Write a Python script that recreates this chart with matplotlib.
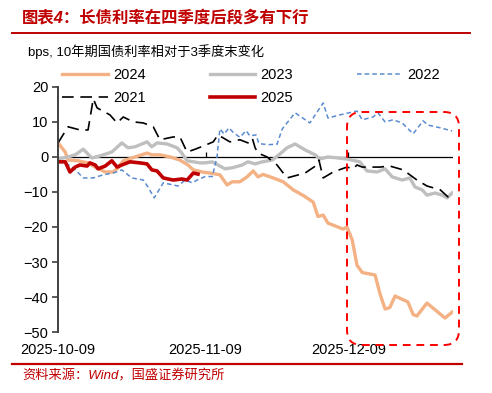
import matplotlib
matplotlib.use("Agg")
import matplotlib.pyplot as plt
from matplotlib.patches import FancyBboxPatch
from matplotlib.lines import Line2D
import pandas as pd

plt.rcParams['font.family'] = ['Liberation Sans', 'Noto Sans CJK SC']

start = pd.Timestamp('2025-10-09')
tick_labels = ['2025-10-09', '2025-11-09', '2025-12-09']
end_day = 83

# days after 2025-10-09, bps change vs end of Q3
d2024 = [0, 1.5, 2.1, 4.2, 6.3, 7.8, 9.9, 11.6, 12.6, 13.7, 16.2, 18.7, 19.7, 21.4, 23.5, 25.6,
         27.3, 28.4, 30.3, 31.9, 34, 35.5, 36.6, 38.2, 39.7, 41, 42, 43.1, 45.2, 47.3, 49.4,
         51.5, 53.6, 54.6, 55.7, 56.7, 59.9, 60.7, 61.8, 62.8, 63.9, 66.6, 67.6, 68.7, 69.7,
         70.8, 73.5, 74.6, 75.4, 77.5, 81.3, 82.8]
v2024 = [4, 1.4, -0.9, -1.1, -1.7, -2.9, -4.3, -4.3, -3.1, -1.1, 0, 1.1, 0.6, 0.6, 0, -0.9,
         -2.3, -3.7, -4.3, -4.6, -5.1, -8, -7.1, -7.1, -5.7, -4, -5.7, -5, -6, -7.1, -9.4,
         -11, -12.9, -17, -16.6, -18.9, -20.6, -20, -23.7, -30.9, -33, -33.7, -38.9, -43.4, -43,
         -39.7, -41.4, -45, -45.4, -41.7, -46, -44.3]

d2023 = [0, 2.1, 3.6, 5.3, 7.1, 8.8, 11.3, 13.4, 14.7, 16.2, 18.7, 19.7, 20.8, 22.9, 25, 26,
         27.1, 29.8, 30.9, 32.4, 33.6, 35.1, 36.6, 38.7, 39.9, 41.4, 42.9, 45, 47.1, 48.1, 49.8,
         51.9, 54, 55, 56.7, 58.8, 60.7, 63.4, 63.9, 64.9, 67, 68.7, 70.2, 72.3, 73.9, 75, 76.5,
         77.5, 79.2, 80.7, 81.7, 82.8]
v2023 = [-0.6, 0, 0.6, 2.2, -0.3, 0.3, 1.4, 4, 2.6, 2.9, 4.3, 2.9, 4, 3.7, 2.6, 1.1,
         -1.1, -1.7, -1.7, -1.4, -2.3, -3.4, -3.1, -2.3, -1.4, -2, -1.4, -0.9, 1.4, 2.6, 3.7,
         2, 0.6, -0.6, 0, -0.3, -0.6, -1.4, -2.3, -4, -4.3, -3.4, -5.7, -6.6, -6, -8.6, -9.4,
         -10.9, -10.3, -10.9, -11.7, -10.3]

d2022 = [0, 1.5, 3.2, 5.3, 7.4, 9.5, 11.6, 13.4, 15.5, 17.9, 18.9, 20.2, 22.1, 25.2, 26.7,
         28.2, 29.2, 30.9, 32.4, 33.4, 34, 34.9, 35.9, 36.8, 38.2, 39.5, 40.3, 41.6, 42.2, 44.1,
         46, 47.1, 49.8, 52.9, 55.7, 56.7, 59.2, 62.8, 63.9, 66.2, 67.2, 68.7, 70.4, 72.3, 74.6,
         76.7, 77.7, 80.3, 82.8]
v2022 = [-1.4, -1.7, -3.1, -6, -6, -5.1, -4.6, -3.7, -6, -6.6, -8.6, -11.7, -7.4, -8.3, -6.6,
         -7.4, -6.6, -5.6, -5.6, 0, 8, 6.5, 8.3, 7, 5.6, 7.5, 6, 6.3, 3.8, 3.5,
         3.6, 8, 12.6, 9.7, 15.4, 11.1, 12, 13.1, 10.6, 11.4, 12.6, 10, 10.6, 9.7, 6.6,
         10.3, 9.1, 8.3, 7.4]

d2021 = [0, 2.1, 4.6, 6.3, 7.4, 8.2, 10.9, 12.4, 13.7, 15.8, 17.9, 20, 21.4, 24.2, 25.6,
         27.1, 28.4, 30.5, 32.6, 33.6, 36.1, 38.2, 39.9, 40.8, 41.4, 42, 43.9, 46, 48.1, 51.9,
         54.4, 54.8, 55.7, 57.8, 60.7, 62, 62.8, 63.9, 67.6, 69.7, 72.5, 75.4, 77.5, 80.3, 81.9, 83]
v2021 = [4, 8.6, 7.7, 7.7, 16.6, 14, 12, 9.7, 11.4, 10, 9.7, 8.6, 4.9, 5.7, 5.7,
         1.4, 2, 3.1, 4.3, 6.3, 4.3, 4.9, 4, 5.4, 2.6, 1.1, 0, -2.3, -6, -4.6,
         -2.3, -0.9, -6, -4.3, -2.9, -3.4, -2.3, -2.9, -2.9, -2.6, -3.7, -6.6, -8.3, -9.4, -11.4, -10.3]

d2025 = [0, 1.5, 2.5, 3.6, 4.6, 6.1, 6.7, 7.8, 8.4, 9.9, 11.3, 12.4, 13.4, 15.1, 17.2, 18.7,
         19.7, 20.8, 22.1, 24.2, 26, 27.1, 27.7, 28.4, 29.4]
v2025 = [-1.4, -1.4, -4.3, -2.9, -2.3, -2.6, -1.7, -2.3, -3.4, -2.6, -1.1, -2.9, -2.3, -1.4, -1.7, -2,
         -3.7, -4, -6, -6.6, -6.3, -6.6, -5.7, -4.6, -4.9]

c2024 = '#F4B183'
c2023 = '#BFBFBF'
c2022 = '#5B8BD0'
c2021 = '#000000'
c2025 = '#C00000'
dark_red = '#C00000'

fig = plt.figure(figsize=(4.92, 3.93), dpi=100)
ax = fig.add_axes([0.118, 0.155, 0.803, 0.624])

l24, = ax.plot(d2024, v2024, color=c2024, lw=2.4, label='2024')
l23, = ax.plot(d2023, v2023, color=c2023, lw=2.4, label='2023')
l22, = ax.plot(d2022, v2022, color=c2022, lw=1.1, ls=(0, (3, 2)), label='2022')
l21, = ax.plot(d2021, v2021, color=c2021, lw=1.2, ls=(0, (7, 4)), label='2021')
l25, = ax.plot(d2025, v2025, color=c2025, lw=2.6, label='2025')

ax.axhline(0, color='black', lw=0.9, zorder=1)
tick_days = [(pd.Timestamp(t) - start).days for t in tick_labels]
ax.vlines(tick_days[1:], 0, 1.3, color='black', lw=0.9)

ax.set_xlim(0, end_day)
ax.set_ylim(-50, 20)
ax.set_yticks(range(-50, 21, 10))
ax.set_xticks(tick_days)
ax.set_xticklabels(tick_labels)
ax.tick_params(axis='x', length=0, pad=8, labelsize=10.5)
ax.tick_params(axis='y', length=4, width=1.2, color='#404040', pad=3, labelsize=10.5)
for s in ['top', 'right', 'bottom']:
    ax.spines[s].set_visible(False)
ax.spines['left'].set_color('#404040')
ax.spines['left'].set_linewidth(1.4)

fig.legend([l24, l21, l23, l25, l22], ['2024', '2021', '2023', '2025', '2022'],
           ncol=3, loc='upper left', bbox_to_anchor=(0.127, 0.826), frameon=False,
           fontsize=10.5, handlelength=3.1, handletextpad=0.35, columnspacing=4.4,
           labelspacing=0.6, borderaxespad=0, borderpad=0)

# highlight box
box = FancyBboxPatch((3.47, 0.48), 1.12, 2.33, boxstyle='round,pad=0,rounding_size=0.15',
                     transform=fig.dpi_scale_trans, fill=False, edgecolor='#FF0000',
                     lw=1.4, ls=(0, (4, 3)), zorder=5)
fig.patches.append(box)

fig.text(0.045, 0.955, '图表4：长债利率在四季度后段多有下行', color=dark_red,
         fontsize=11.8, fontweight='bold', style='italic', va='center', ha='left')
fig.add_artist(Line2D([0.025, 0.955], [0.916, 0.916], color=dark_red, lw=1.4))
fig.text(0.057, 0.868, 'bps, 10年期国债利率相对于3季度末变化', fontsize=9.5,
         va='center', ha='left')
fig.add_artist(Line2D([0.025, 0.94], [0.074, 0.074], color=dark_red, lw=1.6))
fig.text(0.045, 0.042, '资料来源：Wind，国盛证券研究所', color=dark_red, fontsize=9.5,
         style='italic', va='center', ha='left')

fig.savefig('out.png', dpi=100)
